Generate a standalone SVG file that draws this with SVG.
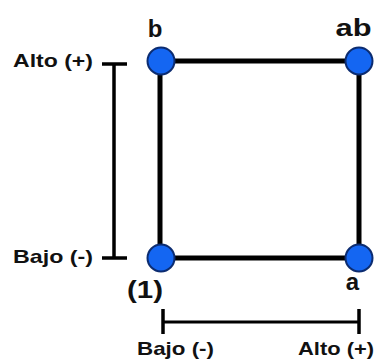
<svg xmlns="http://www.w3.org/2000/svg" width="377" height="363" viewBox="0 0 377 363">
<style>
.edge{stroke:#000;stroke-width:5;fill:none;stroke-linecap:square}
.brk{stroke:#000;stroke-width:3.5;fill:none}
.pt{fill:#1466f2;stroke:#0c2c70;stroke-width:2}
.lbl{font-family:"Liberation Sans",Arial,sans-serif;font-weight:bold;font-size:24px;fill:#111;text-anchor:middle}
.ax{font-family:"Liberation Sans",Arial,sans-serif;font-weight:bold;font-size:19px;fill:#111}
</style>
<rect width="377" height="363" fill="#fff"/>
<g id="connectors">
<line class="edge" x1="160" y1="61" x2="359" y2="61"/>
<line class="edge" x1="160" y1="258" x2="359" y2="258"/>
<line class="edge" x1="160" y1="61" x2="160" y2="258"/>
<line class="edge" x1="359" y1="61" x2="359" y2="258"/>
</g>
<g id="left-scale">
<line class="brk" x1="114" y1="63" x2="114" y2="258"/>
<line class="brk" x1="102" y1="64" x2="127" y2="64"/>
<line class="brk" x1="102" y1="258" x2="127" y2="258"/>
<text class="ax" x="13" y="67" textLength="80" lengthAdjust="spacingAndGlyphs">Alto (+)</text>
<text class="ax" x="13" y="263" textLength="80" lengthAdjust="spacingAndGlyphs">Bajo (-)</text>
</g>
<g id="bottom-scale">
<line class="brk" x1="163" y1="322" x2="359" y2="322" style="stroke-width:3"/>
<line class="brk" x1="163" y1="309" x2="163" y2="334"/>
<line class="brk" x1="359" y1="309" x2="359" y2="334"/>
<text class="ax" x="137" y="355" textLength="77" lengthAdjust="spacingAndGlyphs">Bajo (-)</text>
<text class="ax" x="298" y="355" textLength="76" lengthAdjust="spacingAndGlyphs">Alto (+)</text>
</g>
<g id="node-b">
<circle class="pt" cx="161" cy="61" r="13.5"/>
<text class="lbl" x="155" y="37">b</text>
</g>
<g id="node-ab">
<circle class="pt" cx="359" cy="61" r="13.5"/>
<text class="lbl" x="353.5" y="36" textLength="36" lengthAdjust="spacingAndGlyphs">ab</text>
</g>
<g id="node-1">
<circle class="pt" cx="161" cy="258" r="13.5"/>
<text class="lbl" x="145" y="298" textLength="36" lengthAdjust="spacingAndGlyphs">(1)</text>
</g>
<g id="node-a">
<circle class="pt" cx="359" cy="258" r="13.5"/>
<text class="lbl" x="352.5" y="290">a</text>
</g>
</svg>
